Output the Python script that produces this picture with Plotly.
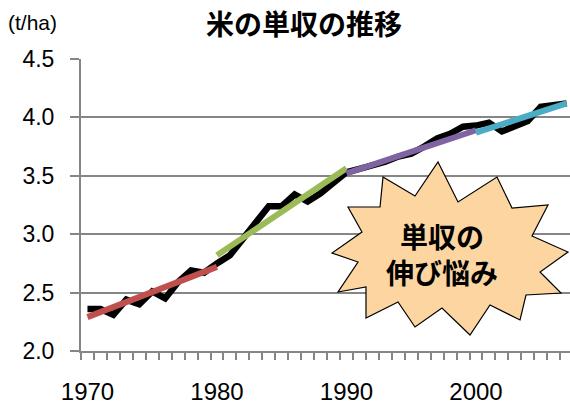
import plotly.graph_objects as go

years = list(range(1970, 2008))
yield_t_ha = [2.36, 2.36, 2.31, 2.44, 2.40, 2.51, 2.45, 2.59, 2.69, 2.67,
              2.75, 2.82, 2.96, 3.11, 3.24, 3.24, 3.34, 3.28, 3.35, 3.44,
              3.53, 3.56, 3.585, 3.62, 3.665, 3.69, 3.75, 3.82, 3.86, 3.92,
              3.93, 3.955, 3.88, 3.92, 3.97, 4.09, 4.10, 4.12]

trend_periods = [(1970, 1980), (1980, 1990), (1990, 2000), (2000, 2007)]
trend_values = [(2.29, 2.72), (2.82, 3.565), (3.52, 3.89), (3.87, 4.12)]
trend_colors = ["#C0504D", "#9BBB59", "#8064A2", "#4BACC6"]

x_labels = [1970, 1980, 1990, 2000]
y_ticks = [2.0, 2.5, 3.0, 3.5, 4.0, 4.5]

W, H = 570, 404
L, R, T, B = 81, 0, 59, 53
px_per_year = 12.95
pw, ph = W - L - R, H - T - B
x_max = 1969.5 + pw / px_per_year


def px2paper(px, py):
    return (px - L) / pw, (H - B - py) / ph


fig = go.Figure()
fig.add_trace(go.Scatter(x=years, y=yield_t_ha, mode="lines",
                         line=dict(color="black", width=6.5), showlegend=False,
                         cliponaxis=False))
for (x0, x1), (y0, y1), c in zip(trend_periods, trend_values, trend_colors):
    fig.add_trace(go.Scatter(x=[x0, x1], y=[y0, y1], mode="lines",
                             line=dict(color=c, width=6), showlegend=False))

# starburst (pixel coords -> paper)
star_px = [(438,162),(458,202),(497,177),(512,208),(548,205),(532,236),(568,252),
           (540,272),(561,293),(526,295),(520,320),(490,305),(470,335),(442,308),
           (415,327),(398,302),(366,318),(366,287),(338,292),(358,262),(332,253),
           (362,232),(348,207),(380,207),(383,177),(415,196)]
pts = [px2paper(px, py) for px, py in star_px]
path = "M " + " L ".join(f"{x:.4f},{y:.4f}" for x, y in pts) + " Z"
fig.add_shape(type="path", path=path, xref="paper", yref="paper",
              fillcolor="#FCD5A0", line=dict(color="black", width=1.2), layer="above")

texts = [("<b>単収の<br>伸び悩み</b>", 442, 254, 28, "Noto Sans CJK JP"),
         ("<b>米の単収の推移</b>", 304, 23, 28, "Noto Sans CJK JP"),
         ("(t/ha)", 32, 23, 21, "Liberation Sans")]
for t, px, py, fs, fam in texts:
    x, y = px2paper(px, py)
    fig.add_annotation(x=x, y=y, xref="paper", yref="paper", text=t, showarrow=False,
                       xanchor="center", yanchor="middle",
                       font=dict(size=fs, color="black", family=fam))

fig.update_layout(
    width=W, height=H,
    margin=dict(l=L, r=R, t=T, b=B, autoexpand=False),
    paper_bgcolor="white", plot_bgcolor="white",
    font=dict(family="Liberation Sans, Arial, sans-serif", color="black"),
    showlegend=False,
    xaxis=dict(range=[1969.5, x_max], tickmode="array", tickvals=x_labels,
               ticktext=[str(v) for v in x_labels], ticks="", showgrid=False,
               showline=True, linecolor="#868686", linewidth=2,
               tickfont=dict(size=24), ticklabelstandoff=18, automargin=False,
               minor=dict(tickmode="linear", tick0=1969.5, dtick=1, ticks="outside",
                          ticklen=7, tickcolor="#868686", tickwidth=2, showgrid=False),
               zeroline=False, fixedrange=True),
    yaxis=dict(range=[2.0, 4.5], tickmode="array", tickvals=y_ticks,
               ticktext=[f"{v:.1f}" for v in y_ticks], ticks="outside", ticklen=9,
               tickcolor="#868686", tickwidth=2, showgrid=True, gridcolor="#868686",
               gridwidth=2, showline=True, linecolor="#868686", linewidth=2,
               tickfont=dict(size=23), ticklabelstandoff=11, automargin=False,
               zeroline=False, fixedrange=True),
)

fig.write_html("out.html", config={"displayModeBar": False},
               post_script="document.body.style.margin='0';document.body.style.overflow='hidden';")
